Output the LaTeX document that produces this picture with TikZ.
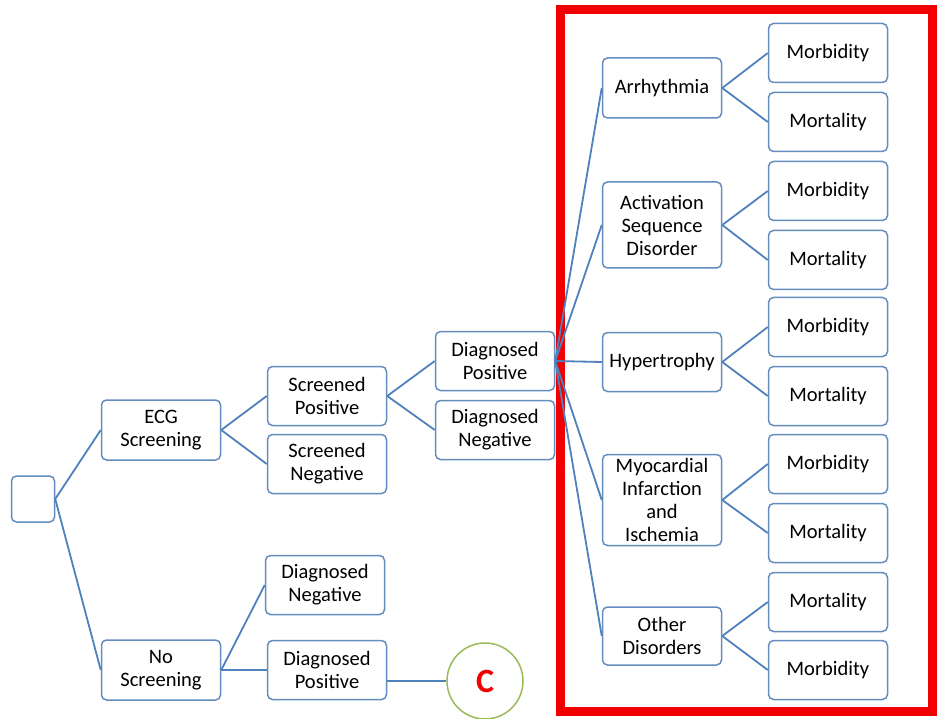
\documentclass[tikz,border=0pt]{standalone}
\usepackage{fontspec}
\setmainfont{Carlito}
\definecolor{linec}{RGB}{79,129,189}
\definecolor{boxc}{RGB}{100,140,190}
\definecolor{circc}{RGB}{155,187,89}
\definecolor{redc}{RGB}{240,0,0}
\begin{document}
\begin{tikzpicture}[x=1pt,y=-1pt,
  box/.style={draw=boxc,line width=1.5pt,rounded corners=5pt,fill=white,align=center,inner sep=0pt,
    minimum width=119pt,minimum height=59pt,font=\fontsize{20.5}{23}\selectfont},
  conn/.style={draw=linec,line width=1.8pt}]
\useasboundingbox (0,0) rectangle (937,719);
\draw[redc,line width=9pt] (560,10) rectangle (932,711);
% nodes
\node[box,minimum width=43pt,minimum height=46pt] (root) at (33,499) {};
\node[box,minimum height=60pt] (ecg) at (161,430) {ECG\\Screening};
\node[box] (sp) at (327,396) {Screened\\Positive};
\node[box] (sn) at (327,464) {Screened\\Negative};
\node[box] (dp) at (495,361) {Diagnosed\\Positive};
\node[box] (dn) at (495,430) {Diagnosed\\Negative};
\node[box,minimum height=60pt] (ns) at (161,670) {No\\Screening};
\node[box] (dnb) at (325,585) {Diagnosed\\Negative};
\node[box] (dpb) at (327,670) {Diagnosed\\Positive};
\node[draw=circc,line width=1.5pt,circle,minimum size=76pt,inner sep=0pt,fill=white,
  text=redc,font=\fontsize{34}{36}\selectfont\bfseries] (c) at (485,681) {C};
\node[box,minimum height=60pt] (arr) at (662,88) {Arrhythmia};
\node[box,minimum height=86pt] (asd) at (662,225) {Activation\\Sequence\\Disorder};
\node[box] (hyp) at (662,362) {Hypertrophy};
\node[box,minimum height=91pt] (mi) at (662,500) {Myocardial\\Infarction\\and\\Ischemia};
\node[box,minimum height=58pt] (oth) at (662,636) {Other\\Disorders};
\node[box] (r1) at (828,53) {Morbidity};
\node[box] (r2) at (828,122) {Mortality};
\node[box] (r3) at (828,191) {Morbidity};
\node[box] (r4) at (828,260) {Mortality};
\node[box] (r5) at (828,327) {Morbidity};
\node[box] (r6) at (828,396) {Mortality};
\node[box] (r7) at (828,464) {Morbidity};
\node[box] (r8) at (828,533) {Mortality};
\node[box] (r9) at (828,602) {Mortality};
\node[box] (r10) at (828,670) {Morbidity};
% connectors
\draw[conn] (root.east) -- (ecg.west);
\draw[conn] (root.east) -- (ns.west);
\draw[conn] (ecg.east) -- (sp.west);
\draw[conn] (ecg.east) -- (sn.west);
\draw[conn] (sp.east) -- (dp.west);
\draw[conn] (sp.east) -- (dn.west);
\draw[conn] (ns.east) -- (dnb.west);
\draw[conn] (ns.east) -- (dpb.west);
\draw[conn] ([yshift=-11pt]dpb.east) -- (c.west);
\foreach \t in {arr,asd,hyp,mi,oth} \draw[conn] (dp.east) -- (\t.west);
\draw[conn] (arr.east) -- (r1.west);
\draw[conn] (arr.east) -- (r2.west);
\draw[conn] (asd.east) -- (r3.west);
\draw[conn] (asd.east) -- (r4.west);
\draw[conn] (hyp.east) -- (r5.west);
\draw[conn] (hyp.east) -- (r6.west);
\draw[conn] (mi.east) -- (r7.west);
\draw[conn] (mi.east) -- (r8.west);
\draw[conn] (oth.east) -- (r9.west);
\draw[conn] (oth.east) -- (r10.west);
\end{tikzpicture}
\end{document}
